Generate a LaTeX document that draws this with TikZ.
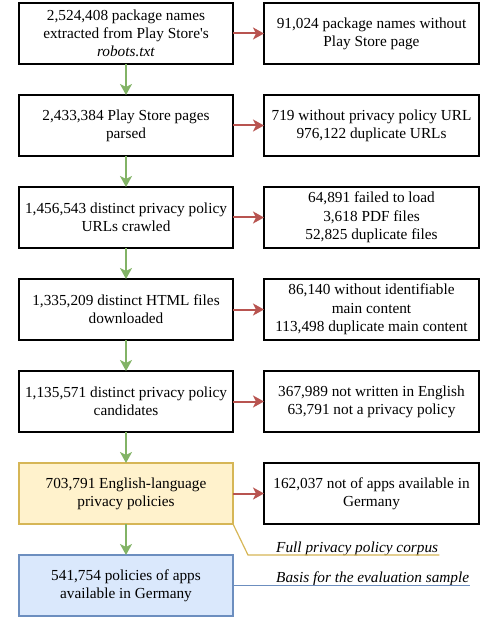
\documentclass[tikz,border=0pt]{standalone}
\usepackage{fontspec}
\setmainfont{Liberation Serif}[Ligatures=TeXOff]
\usetikzlibrary{arrows.meta, positioning}

\definecolor{keepgreen}{HTML}{82B366}
\definecolor{dropred}{HTML}{B85450}
\definecolor{corpusfill}{HTML}{FFF2CC}
\definecolor{corpusline}{HTML}{D6B656}
\definecolor{samplefill}{HTML}{DAE8FC}
\definecolor{sampleline}{HTML}{6C8EBF}

\begin{document}
\begin{tikzpicture}
  [
    x=1pt, y=1pt,
    font=\fontsize{15.3}{18.3}\selectfont,
    stage/.style={draw, line width=1.3pt, align=center, minimum width=214pt, minimum height=61pt, inner sep=2pt, outer sep=0pt},
    dropped/.style={stage, minimum width=215pt},
    keep/.style={draw=keepgreen, line width=2pt, -{Stealth[length=11pt,width=12pt,inset=3pt]}},
    drop/.style={keep, draw=dropred},
    note/.style={font=\fontsize{15.3}{18.3}\selectfont\itshape, anchor=base west, inner sep=1pt},
    node distance=31pt
  ]
  \useasboundingbox (0,0) rectangle (481,-617);

  % main pipeline
  \node[stage] (robots) at (126,-33.5) {2,524,408 package names\\extracted from Play Store's\\\textit{robots.txt}};
  \node[stage, below=of robots] (parsed) {2,433,384 Play Store pages\\parsed};
  \node[stage, below=of parsed] (crawled) {1,456,543 distinct privacy policy\\URLs crawled};
  \node[stage, below=of crawled] (downloaded) {1,335,209 distinct HTML files\\downloaded};
  \node[stage, below=of downloaded] (candidates) {1,135,571 distinct privacy policy\\candidates};
  \node[stage, below=of candidates, draw=corpusline, fill=corpusfill] (english) {703,791 English-language\\privacy policies};
  \node[stage, below=of english, draw=sampleline, fill=samplefill] (germany) {541,754 policies of apps\\available in Germany};

  % filtered out
  \node[dropped, right=of robots] (nopage) {91,024 package names without\\Play Store page};
  \node[dropped, right=of parsed] (nourl) {719 without privacy policy URL\\976,122 duplicate URLs};
  \node[dropped, right=of crawled] (failed) {64,891 failed to load\\3,618 PDF files\\52,825 duplicate files};
  \node[dropped, right=of downloaded] (nocontent) {86,140 without identifiable\\main content\\113,498 duplicate main content};
  \node[dropped, right=of candidates] (notenglish) {367,989 not written in English\\63,791 not a privacy policy};
  \node[dropped, right=of english] (notgermany) {162,037 not of apps available in\\Germany};

  \draw[keep] (robots) -- (parsed);
  \draw[keep] (parsed) -- (crawled);
  \draw[keep] (crawled) -- (downloaded);
  \draw[keep] (downloaded) -- (candidates);
  \draw[keep] (candidates) -- (english);
  \draw[keep] (english) -- (germany);

  \draw[drop] (robots) -- (nopage);
  \draw[drop] (parsed) -- (nourl);
  \draw[drop] (crawled) -- (failed);
  \draw[drop] (downloaded) -- (nocontent);
  \draw[drop] (candidates) -- (notenglish);
  \draw[drop] (english) -- (notgermany);

  % corpus labels
  \node[note] (corpus) at (275,-552) {Full privacy policy corpus};
  \node[note] (basis) at (275,-582.5) {Basis for the evaluation sample};
  \coordinate (corpusbend) at (248,-555);
  \draw[corpusline, line width=1.2pt] (english.south east) -- (corpusbend) -- (corpusbend -| corpus.east);
  \draw[sampleline, line width=1.2pt] (germany.east) -- (germany.east -| basis.east);
\end{tikzpicture}
\end{document}
